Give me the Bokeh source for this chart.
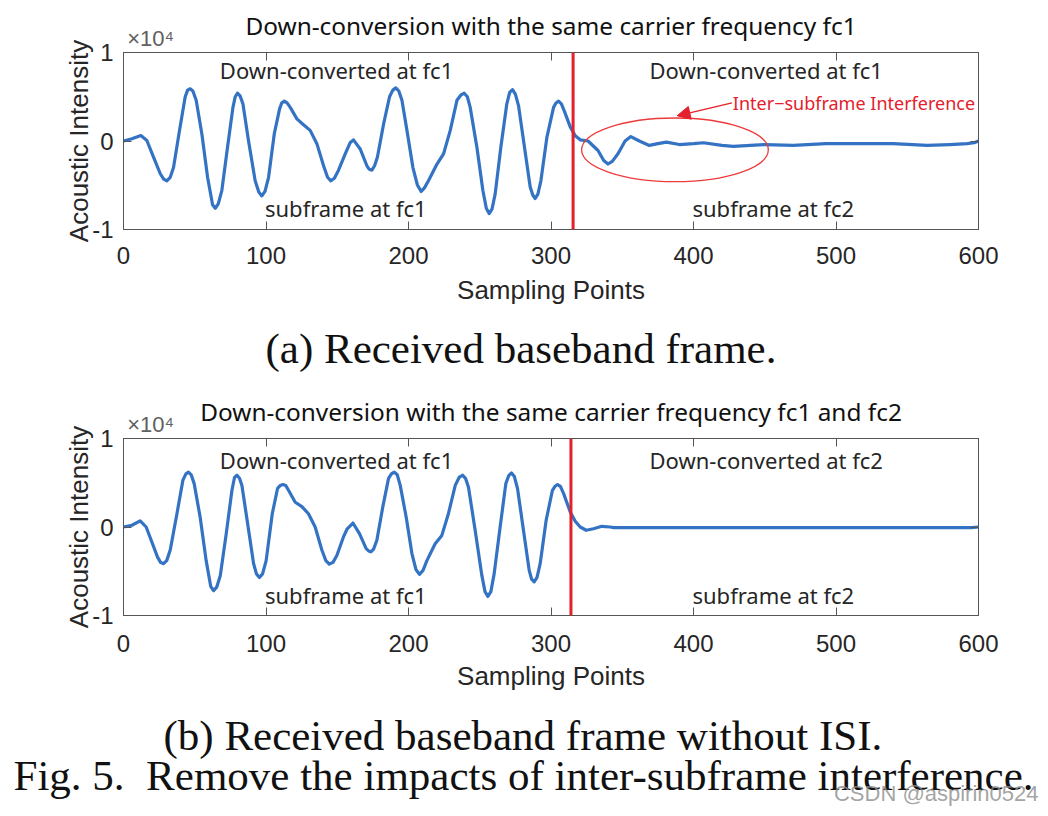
from bokeh.plotting import figure
from bokeh.models import Range1d, LinearAxis, Title, Label, Span, Arrow, NormalHead, FixedTicker
from bokeh.layouts import column
from bokeh.embed import file_html
from bokeh.resources import INLINE
from bokeh.core.properties import value

# ---------------- data (y in units of 1e4) ----------------
top_x = [0, 5.9, 12.2, 16.4, 21, 25.8, 28.2, 30.4, 32.8, 35.1, 39.3, 43.3, 45, 46.8, 48.7, 51, 55, 59,
         62.5, 64.4, 66.5, 69, 73, 76.8, 78.4, 80, 81.8, 83.8, 87.7, 92.4, 95, 97.1, 99.3, 101.8, 105.8,
         109.5, 111, 112.8, 114.8, 117, 121.7, 125.9, 131, 135.7, 140.4, 143.2, 145.5, 148, 150.9, 155.6,
         159, 161.4, 166.1, 170.8, 172.5, 174.3, 176.2, 178.2, 182.5, 186.7, 189, 191.1, 193.2, 195.4,
         198.9, 203.1, 206.3, 208.9, 211.2, 214, 220, 224.6, 229.3, 234, 236.8, 239.1, 241.3, 243.3, 248,
         252.2, 254.6, 256.6, 258.6, 260.8, 264.8, 269, 271, 273, 275, 277.2, 281.4, 285.4, 287.2, 288.9,
         290.8, 292.9, 297.1, 301.8, 303.5, 305.3, 307.3, 309.3, 313.5, 317, 320.5, 326, 333, 337, 340,
         343, 347, 352, 356, 362, 369, 375, 381, 390, 400, 407, 420, 428, 440, 450, 470, 493, 517, 540,
         564, 580, 592, 597, 600]
top_y = [0.0, 0.025, 0.062, 0.006, -0.18, -0.37, -0.43, -0.45, -0.41, -0.30, 0.12, 0.50, 0.575, 0.59,
         0.565, 0.46, 0.08, -0.41, -0.72, -0.76, -0.71, -0.56, -0.07, 0.38, 0.50, 0.54, 0.51, 0.42, 0.006,
         -0.45, -0.58, -0.62, -0.57, -0.41, 0.08, 0.36, 0.43, 0.45, 0.43, 0.38, 0.25, 0.19, 0.12, -0.03,
         -0.28, -0.41, -0.45, -0.42, -0.33, -0.145, -0.02, 0.013, -0.09, -0.28, -0.32, -0.33, -0.28,
         -0.18, 0.19, 0.50, 0.575, 0.60, 0.565, 0.46, 0.12, -0.30, -0.50, -0.57, -0.53, -0.45, -0.26,
         -0.145, 0.12, 0.46, 0.52, 0.54, 0.50, 0.38, -0.07, -0.56, -0.76, -0.82, -0.77, -0.60, -0.07, 0.42,
         0.55, 0.58, 0.53, 0.40, -0.07, -0.52, -0.61, -0.65, -0.60, -0.45, 0.04, 0.38, 0.43, 0.45, 0.42,
         0.34, 0.16, 0.06, 0.013, 0.0, -0.107, -0.22, -0.26, -0.23, -0.145, 0.0, 0.05, 0.0, -0.05, -0.03,
         -0.013, -0.04, -0.03, -0.02, -0.05, -0.06, -0.05, -0.04, -0.05, -0.03, -0.03, -0.03, -0.05,
         -0.04, -0.03, -0.02, 0.0]

bot_x = [0, 5.9, 11.7, 15.9, 19.9, 23.9, 26, 28.1, 30.3, 32.8, 37.5, 41.7, 43.8, 45.6, 47.5, 49.6, 53.8,
         58, 61.2, 63.2, 65.4, 67.9, 72.1, 76.1, 77.9, 79.6, 81.4, 83.1, 87.1, 91.3, 93.3, 95.4, 97.6,
         100.1, 104.4, 108.1, 110, 111.9, 113.8, 115.8, 120.5, 125.2, 129.8, 134.5, 139.2, 142, 144.4, 147,
         149.8, 154.4, 157, 161, 165.6, 170.3, 172, 173.6, 175.5, 177.8, 182, 186, 188, 190, 192.1, 194.2,
         198.4, 202.4, 205.2, 207.7, 210.2, 212.9, 218.7, 223.4, 228, 232.8, 235.5, 237.9, 240, 242.1,
         246.8, 251.5, 253.7, 255.7, 257.8, 260.1, 264.3, 268.3, 270.3, 272.3, 274.3, 276.5, 280.7, 284.7,
         286.4, 288.2, 290.2, 292.4, 296.6, 301, 302.8, 304.6, 306.6, 308.8, 313.5, 317, 320.5, 324.7,
         329.8, 335.7, 341.5, 344, 400, 450, 500, 550, 595, 600]
bot_y = [0.0, 0.02, 0.07, 0.0, -0.17, -0.34, -0.40, -0.415, -0.38, -0.26, 0.15, 0.53, 0.60, 0.62, 0.59,
         0.49, 0.11, -0.38, -0.67, -0.72, -0.68, -0.55, -0.075, 0.415, 0.56, 0.585, 0.55, 0.47, 0.04,
         -0.415, -0.53, -0.57, -0.53, -0.38, 0.15, 0.435, 0.47, 0.48, 0.47, 0.415, 0.28, 0.23, 0.15, 0.0,
         -0.26, -0.38, -0.42, -0.40, -0.32, -0.11, -0.02, 0.045, -0.075, -0.245, -0.27, -0.28, -0.25,
         -0.15, 0.23, 0.55, 0.60, 0.62, 0.59, 0.47, 0.11, -0.30, -0.48, -0.535, -0.49, -0.38, -0.19,
         -0.095, 0.15, 0.47, 0.56, 0.585, 0.55, 0.45, -0.04, -0.55, -0.73, -0.785, -0.73, -0.53, 0.0, 0.49,
         0.58, 0.61, 0.57, 0.435, -0.04, -0.49, -0.59, -0.62, -0.57, -0.415, 0.076, 0.415, 0.46, 0.48,
         0.46, 0.38, 0.17, 0.065, 0.0, -0.037, -0.02, 0.008, 0.0, -0.007, -0.007, -0.007, -0.007, -0.007,
         -0.007, 0.0]

split_top = 315.5
split_bot = 314

x_ticks = [0, 100, 200, 300, 400, 500, 600]
y_ticks = [-1, 0, 1]
y_tick_labels = ["-1", "0", "1"]
exponent_text = "\u00d710\u2074"

title_a = "Down-conversion with the same carrier frequency fc1"
title_b = "Down-conversion with the same carrier frequency fc1 and fc2"
caption_a = "(a) Received baseband frame."
caption_b = "(b) Received baseband frame without ISI."
fig_caption = "Fig. 5.\u00a0\u00a0Remove the impacts of inter-subframe interference."
watermark = "CSDN @aspirin0524"
text_top = ["Down-converted at fc1", "Down-converted at fc1", "subframe at fc1", "subframe at fc2"]
text_bot = ["Down-converted at fc1", "Down-converted at fc2", "subframe at fc1", "subframe at fc2"]
text_x = [149.5, 451, 156, 456]
text_y_top = [0.80, 0.80, -0.76, -0.76]
text_y_bot = [0.755, 0.755, -0.77, -0.77]

BLUE = "#3473c3"
RED = "#e4202c"
FRAME = "#555555"
DARK = "#262626"
SANS = "Liberation Sans"
UI = "Noto Sans"
SERIF = "Liberation Serif"


def mirror_axis(ticks):
    return LinearAxis(ticker=FixedTicker(ticks=ticks), major_tick_in=8, major_tick_out=0,
                      minor_tick_line_color=None, major_label_text_color=None,
                      major_label_text_font_size="1px", major_label_standoff=0,
                      axis_line_color=FRAME, major_tick_line_color=FRAME,
                      major_label_overrides={t: "" for t in ticks})


def make_panel(xs, ys, split, title, height, top_border, bottom_border, texts, text_y,
               tick_standoff, label_standoff):
    p = figure(width=1040, height=height, x_range=Range1d(0, 600), y_range=Range1d(-1, 1),
               output_backend="svg", toolbar_location=None,
               min_border_left=123, min_border_right=62,
               min_border_top=top_border, min_border_bottom=bottom_border)
    p.background_fill_color = "white"
    p.border_fill_color = "white"
    p.outline_line_color = FRAME
    p.outline_line_width = 1
    p.xgrid.visible = False
    p.ygrid.visible = False

    p.xaxis.ticker = FixedTicker(ticks=x_ticks)
    p.yaxis.ticker = FixedTicker(ticks=y_ticks)
    p.yaxis.major_label_overrides = {t: l for t, l in zip(y_ticks, y_tick_labels)}
    for ax in (p.xaxis[0], p.yaxis[0]):
        ax.major_tick_in = 8
        ax.major_tick_out = 0
        ax.minor_tick_line_color = None
        ax.axis_line_color = FRAME
        ax.major_tick_line_color = FRAME
        ax.major_label_text_font = SANS
        ax.major_label_text_font_size = "24px"
        ax.major_label_text_color = DARK
        ax.axis_label_text_font = SANS
        ax.axis_label_text_font_size = "26px"
        ax.axis_label_text_font_style = "normal"
        ax.axis_label_text_color = DARK
    p.xaxis.axis_label = "Sampling Points"
    p.yaxis.axis_label = "Acoustic Intensity"
    p.xaxis.major_label_standoff = tick_standoff
    p.xaxis.axis_label_standoff = label_standoff
    p.yaxis.major_label_standoff = 10
    p.yaxis.axis_label_standoff = -5

    # mirrored ticks on top / right (MATLAB box)
    p.add_layout(mirror_axis(x_ticks), "above")
    p.add_layout(mirror_axis(y_ticks), "right")
    # the x10^4 exponent above the top-left corner
    exp_axis = LinearAxis(ticker=FixedTicker(ticks=[19]), major_tick_in=0, major_tick_out=0,
                          minor_tick_line_color=None, axis_line_color=None,
                          major_tick_line_color=None, major_label_standoff=2,
                          major_label_text_font=SANS, major_label_text_font_size="22px",
                          major_label_text_color="#606060",
                          major_label_overrides={19: exponent_text})
    p.add_layout(exp_axis, "above")

    p.title.text = title
    p.title.text_font = UI
    p.title.text_font_size = "24.4px"
    p.title.text_font_style = "normal"
    p.title.text_color = "#111111"
    p.title.align = "center"
    p.title.standoff = -38

    p.line(xs, ys, line_width=3.2, color=BLUE, line_join="round", line_cap="round")
    p.add_layout(Span(location=split, dimension="height", line_color=RED, line_width=3))

    p.text(x=text_x, y=text_y, text=texts, text_font=value(UI), text_font_size="22px",
           text_align="center", text_baseline="middle", text_color=DARK)
    return p


def caption(text, standoff, offset, size="43px", font=SERIF, color="#111111", align="left", alpha=1.0):
    return Title(text=text, align=align, text_font=font, text_font_size=size,
                 text_font_style="normal", text_color=color, text_alpha=alpha,
                 standoff=standoff, offset=offset)


p1 = make_panel(top_x, top_y, split_top, title_a, 391, 52, 162, text_top, text_y_top, 17, 8)
p1.ellipse(x=[387], y=[-0.10], width=[131], height=[0.72], fill_color=None,
           line_color="#ee3a3a", line_width=1.3)
p1.add_layout(Arrow(end=NormalHead(size=13, fill_color=RED, line_color=RED),
                    x_start=427, y_start=0.43, x_end=388.5, y_end=0.285,
                    line_color=RED, line_width=1.3))
p1.add_layout(Label(x=427.6, y=0.43, text="Inter\u2212subframe Interference", text_font=UI,
                    text_font_size="18px", text_color=RED, text_baseline="middle"))
p1.add_layout(caption(caption_a, 31, 142), "below")

p2 = make_panel(bot_x, bot_y, split_bot, title_b, 425, 47, 201, text_bot, text_y_bot, 19, 6)
p2.add_layout(caption(caption_b, 32, 40), "below")
p2.add_layout(caption(fig_caption, -49, -110), "below")
p2.add_layout(caption(watermark, 8, -60, size="22px", font=SANS, color="#8c8c8c",
                      align="right", alpha=0.8), "below")

layout = column(p1, p2, spacing=0)
open("out.html", "w").write(file_html(layout, INLINE))
